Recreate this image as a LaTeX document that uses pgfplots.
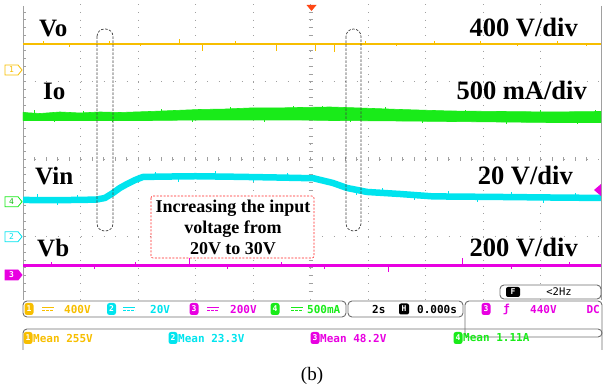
\documentclass[border=0pt]{standalone}
\usepackage{pgfplots}
\pgfplotsset{compat=1.18}
\usepackage{fontspec}
\setmainfont{Liberation Serif}
\newfontfamily\scopefont{DejaVu Sans Mono}
\definecolor{yc}{RGB}{247,190,0}
\definecolor{gc}{RGB}{25,235,25}
\definecolor{cc}{RGB}{0,228,238}
\definecolor{mc}{RGB}{232,0,225}
\definecolor{gridc}{RGB}{160,160,160}
\definecolor{trigc}{RGB}{255,70,20}
\definecolor{boxc}{RGB}{110,110,110}
\newcommand\cnum[4]{\node[fill=#1, text=white, rounded corners=2.5pt, inner sep=0pt, anchor=center, minimum width=9pt, minimum height=12pt, font=\scopefont\bfseries\fontsize{8}{8}\selectfont] at (#2,#3) {#4};}
\newcommand\dcsym[3]{\draw[#1, line width=1.1pt] (#2-6,#3-1.8) -- (#2+6,#3-1.8); \draw[#1, line width=1.1pt, dash pattern=on 2.5pt off 1.5pt] (#2-6,#3+1.8) -- (#2+6,#3+1.8);}
\begin{document}
\begin{tikzpicture}
% ---------- screen grid (decoration) ----------
\begin{scope}[x=1pt,y=-1pt]
\useasboundingbox (0,0) rectangle (603,390);
\foreach \i in {1,...,9} \draw[gridc, line width=0.8pt, dash pattern=on 0.8pt off 6.95pt] ({23+57.5*\i},4.2) -- ({23+57.5*\i},300);
\foreach \yy in {81.7,159.2,236.7} \draw[gridc, line width=0.8pt, dash pattern=on 0.8pt off 10.7pt] (23,\yy) -- (601,\yy);
\draw[gridc, line width=0.9pt] (23,6) -- (23,300);
\draw[gridc, line width=0.9pt] (601,6) -- (601,300);
\foreach \k in {1,...,37} \draw[gridc, line width=0.7pt] (23,{4.2+7.75*\k}) -- (26,{4.2+7.75*\k});
\foreach \k in {1,...,37} \draw[gridc, line width=0.7pt] (308.5,{4.2+7.75*\k}) -- (312.5,{4.2+7.75*\k});
\foreach \k in {1,...,49} \draw[gridc, line width=0.7pt] ({23+11.5*\k},157.2) -- ({23+11.5*\k},161.2);
\end{scope}
% ---------- traces ----------
\begin{axis}[
  at={(23pt,-300pt)}, anchor=south west,
  scale only axis, width=578pt, height=295.8pt,
  xmin=-10, xmax=10.104, ymin=-3.634, ymax=4,
  hide axis, unbounded coords=jump,
]
% Vo (400 V/div)
\addplot[yc, line width=2.2pt] coordinates {(-10,2.973) (10.104,2.973)};
\addplot[yc, line width=1pt] coordinates {
(-9.3,2.973)(-9.3,3.05)(-9.3,nan) (-8.4,2.973)(-8.4,2.90)(-8.4,nan)
(-7.0,2.973)(-7.0,3.04)(-7.0,nan) (-5.9,2.973)(-5.9,2.91)(-5.9,nan)
(-4.54,2.973)(-4.54,3.10)(-4.54,nan) (-3.74,2.973)(-3.74,2.79)(-3.74,nan)
(-2.6,2.973)(-2.6,3.05)(-2.6,nan) (-1.17,2.973)(-1.17,2.79)(-1.17,nan)
(0.16,2.973)(0.16,2.79)(0.16,nan) (0.85,2.973)(0.85,2.77)(0.85,nan)
(1.9,2.973)(1.9,3.04)(1.9,nan) (3.0,2.973)(3.0,2.92)(3.0,nan)
(4.3,2.973)(4.3,3.05)(4.3,nan) (5.9,2.973)(5.9,3.05)(5.9,nan)
(7.2,2.973)(7.2,2.91)(7.2,nan) (8.6,2.973)(8.6,3.04)(8.6,nan)
(9.6,2.973)(9.6,2.92)(9.6,nan)};
% Io (500 mA/div) noisy band
\addplot[gc, fill=gc, line width=0.6pt] coordinates {
(-10,1.205) (-9.409,1.179) (-8.713,1.218) (-8.017,1.192) (-7.322,1.218) (-6.626,1.205)
(-5.583,1.231) (-4.713,1.257) (-3.843,1.283) (-2.974,1.294) (-2.104,1.321) (-1.235,1.321)
(-0.365,1.334) (0.678,1.347) (1.722,1.321) (3.113,1.283) (4.852,1.244) (6.591,1.231)
(8.330,1.218) (10.104,1.231)
(10.104,0.947) (8.330,0.947) (6.591,0.960) (4.852,0.973) (3.113,0.986) (0.678,0.999)
(-0.365,1.012) (-2.104,1.012) (-3.843,1.012) (-5.583,0.999) (-7.322,0.999) (-8.713,0.999) (-10,0.999)
} -- cycle;
\addplot[gc, line width=0.8pt] coordinates {
(-9.6,1.10)(-9.6,1.26)(-9.6,nan) (-8.9,1.10)(-8.9,0.95)(-8.9,nan)
(-7.9,1.10)(-7.9,1.25)(-7.9,nan) (-6.9,1.10)(-6.9,0.96)(-6.9,nan)
(-5.2,1.12)(-5.2,1.30)(-5.2,nan) (-4.1,1.12)(-4.1,0.96)(-4.1,nan)
(-2.8,1.15)(-2.8,1.35)(-2.8,nan) (-1.6,1.15)(-1.6,0.96)(-1.6,nan)
(-0.6,1.17)(-0.6,1.38)(-0.6,nan) (0.4,1.17)(0.4,1.38)(0.4,nan)
(1.4,1.16)(1.4,0.96)(1.4,nan) (2.6,1.15)(2.6,1.34)(2.6,nan)
(3.9,1.12)(3.9,0.93)(3.9,nan) (5.4,1.10)(5.4,1.28)(5.4,nan)
(6.8,1.10)(6.8,0.91)(6.8,nan) (8.0,1.10)(8.0,1.27)(8.0,nan)
(9.3,1.10)(9.3,0.91)(9.3,nan) (9.9,1.10)(9.9,1.27)(9.9,nan)};
% Vin (20 V/div)
\addplot[cc, line width=6.5pt, line join=round] coordinates {
(-10,-1.053) (-8.5,-1.055) (-7.8,-1.048) (-7.43,-1.04) (-7.15,-1.001) (-6.87,-0.872)
(-6.63,-0.743) (-6.38,-0.64) (-6.10,-0.537) (-5.83,-0.459) (-5.2,-0.45) (-4.0,-0.44)
(-2.5,-0.455) (-1.0,-0.475) (-0.37,-0.485) (0.09,-0.49) (0.78,-0.614) (1.27,-0.743)
(1.97,-0.846) (3.11,-0.898) (4.26,-0.96) (6.59,-0.975) (8.5,-0.99) (10.104,-1.0)};
\addplot[cc, line width=0.8pt] coordinates {
(-9.5,-1.05)(-9.5,-0.91)(-9.5,nan) (-8.8,-1.05)(-8.8,-1.18)(-8.8,nan)
(-8.1,-1.05)(-8.1,-0.92)(-8.1,nan) (-5.4,-0.45)(-5.4,-0.32)(-5.4,nan)
(-4.6,-0.45)(-4.6,-0.58)(-4.6,nan) (-3.3,-0.45)(-3.3,-0.31)(-3.3,nan)
(-2.0,-0.46)(-2.0,-0.59)(-2.0,nan) (-0.8,-0.48)(-0.8,-0.35)(-0.8,nan)
(1.6,-0.79)(1.6,-0.93)(1.6,nan) (2.5,-0.87)(2.5,-0.74)(2.5,nan)
(3.6,-0.92)(3.6,-1.06)(3.6,nan) (4.8,-0.965)(4.8,-0.83)(4.8,nan)
(5.8,-0.97)(5.8,-1.11)(5.8,nan) (7.0,-0.98)(7.0,-0.84)(7.0,nan)
(8.1,-0.99)(8.1,-1.13)(8.1,nan) (9.2,-0.995)(9.2,-0.86)(9.2,nan)};
% Vb (200 V/div)
\addplot[mc, line width=2.4pt] coordinates {(-10,-2.748) (10.104,-2.748)};
\addplot[mc, line width=0.8pt] coordinates {
(-9.0,-2.748)(-9.0,-2.66)(-9.0,nan) (-7.5,-2.748)(-7.5,-2.84)(-7.5,nan)
(-6.1,-2.748)(-6.1,-2.66)(-6.1,nan) (-4.2,-2.748)(-4.2,-2.55)(-4.2,nan)
(-2.9,-2.748)(-2.9,-2.84)(-2.9,nan) (-1.0,-2.748)(-1.0,-2.66)(-1.0,nan)
(0.5,-2.748)(0.5,-2.84)(0.5,nan) (2.7,-2.748)(2.7,-2.92)(2.7,nan)
(5.3,-2.748)(5.3,-2.55)(5.3,nan) (7.0,-2.748)(7.0,-2.84)(7.0,nan)
(9.0,-2.748)(9.0,-2.66)(9.0,nan)};
\end{axis}
% ---------- annotations ----------
\begin{scope}[x=1pt,y=-1pt]
% channel tags
\draw[yc, line width=0.8pt, fill=white] (5,65) -- (18,65) -- (22,70) -- (18,75) -- (5,75) -- cycle;
\node[text=yc, font=\scopefont\fontsize{8}{8}\selectfont] at (11.5,70) {1};
\draw[gc, line width=0.8pt, fill=white] (5,196.7) -- (18,196.7) -- (22,201.7) -- (18,206.7) -- (5,206.7) -- cycle;
\node[text=gc!80!black, font=\scopefont\fontsize{8}{8}\selectfont] at (11.5,201.7) {4};
\draw[cc, line width=0.8pt, fill=white] (5,231.7) -- (18,231.7) -- (22,236.7) -- (18,241.7) -- (5,241.7) -- cycle;
\node[text=cc, font=\scopefont\fontsize{8}{8}\selectfont] at (11.5,236.7) {2};
\draw[mc, line width=0.8pt, fill=mc] (5,270) -- (18,270) -- (22,275) -- (18,280) -- (5,280) -- cycle;
\node[text=white, font=\scopefont\bfseries\fontsize{8}{8}\selectfont] at (11.5,275) {3};
\fill[mc] (601,184) -- (594,190) -- (601,196) -- cycle;
\fill[trigc] (306.5,5) -- (316.5,5) -- (311.5,11) -- cycle;
% dashed capsules
\draw[black!75, line width=0.7pt, dash pattern=on 2.5pt off 1.5pt, rounded corners=7.5pt] (97,29) rectangle (113,231);
\draw[black!75, line width=0.7pt, dash pattern=on 2.5pt off 1.5pt, rounded corners=7.5pt] (346,29) rectangle (361,231);
% red box
\draw[red!85, line width=0.6pt, dash pattern=on 2pt off 1.5pt, rounded corners=2pt, fill=white] (151,196) rectangle (314,258);
\node[align=center, font=\fontsize{18}{21}\selectfont\bfseries, inner sep=0pt] at (233,227.5) {Increasing the input\\voltage from\\20V to 30V};
% labels
\begin{scope}[font=\fontsize{25}{25}\selectfont\bfseries]
\node[anchor=base west, inner sep=0pt] at (39,37) {Vo};
\node[anchor=base west, inner sep=0pt] at (43,100) {Io};
\node[anchor=base west, inner sep=0pt] at (35,185) {Vin};
\node[anchor=base west, inner sep=0pt] at (37,257) {Vb};
\end{scope}
\begin{scope}[font=\fontsize{26.5}{26.5}\selectfont\bfseries]
\node[anchor=base east, inner sep=0pt] at (578,37) {400 V/div};
\node[anchor=base east, inner sep=0pt] at (587,100) {500 mA/div};
\node[anchor=base east, inner sep=0pt] at (573,185) {20 V/div};
\node[anchor=base east, inner sep=0pt] at (578,257) {200 V/div};
\end{scope}
% status bar
\draw[boxc, line width=0.9pt, rounded corners=4pt, fill=white] (500,285) rectangle (601,299);
\node[fill=black, text=white, rounded corners=2pt, inner sep=0pt, minimum width=14pt, minimum height=10pt, font=\scopefont\bfseries\fontsize{8}{8}\selectfont] at (513,292) {F};
\node[font=\scopefont\fontsize{10.5}{10.5}\selectfont] at (559,292) {<2Hz};
\draw[boxc, line width=0.9pt, rounded corners=4pt] (23,301) rectangle (346,317);
\draw[boxc, line width=0.9pt, rounded corners=4pt] (348,301) rectangle (463,317);
\draw[boxc, line width=0.9pt, rounded corners=4pt] (465,301) rectangle (602,337);
\draw[boxc, line width=0.9pt, rounded corners=4pt] (23,350) -- (23,329) -- (602,329) -- (602,350);
\begin{scope}[every node/.style={font=\scopefont\bfseries\fontsize{11}{11}\selectfont, inner sep=0pt, anchor=west}]
\cnum{yc}{29}{309}{1} \dcsym{yc}{48}{309}
\node[text=yc] at (64,309) {400V};
\cnum{cc}{111.5}{309}{2} \dcsym{cc}{129}{309}
\node[text=cc] at (150,309) {20V};
\cnum{mc}{194}{309}{3} \dcsym{mc}{213}{309}
\node[text=mc] at (230,309) {200V};
\cnum{gc}{275}{309}{4} \dcsym{gc}{297}{309}
\node[text=gc] at (307,309) {500mA};
\node[text=black] at (372,309) {2s};
\node[fill=black, text=white, rounded corners=2pt, minimum width=10pt, minimum height=11pt, anchor=center, font=\scopefont\bfseries\fontsize{8}{8}\selectfont] at (404,309) {H};
\node[text=black] at (417,309) {0.000s};
\cnum{mc}{486}{309}{3}
\node[text=mc] at (503,309) {ƒ};
\node[text=mc] at (530,309) {440V};
\node[text=mc, anchor=east] at (600,309) {DC};
\cnum{yc}{28}{338}{1}
\node[text=yc] at (33,338) {Mean 255V};
\cnum{cc}{173}{338}{2}
\node[text=cc] at (178,338) {Mean 23.3V};
\cnum{mc}{315}{338}{3}
\node[text=mc] at (320,338) {Mean 48.2V};
\cnum{gc}{458}{338}{4}
\node[text=gc] at (463,338) {Mean 1.11A};
\end{scope}
\node[font=\fontsize{19}{19}\selectfont] at (312,376) {(b)};
\end{scope}
\end{tikzpicture}
\end{document}
